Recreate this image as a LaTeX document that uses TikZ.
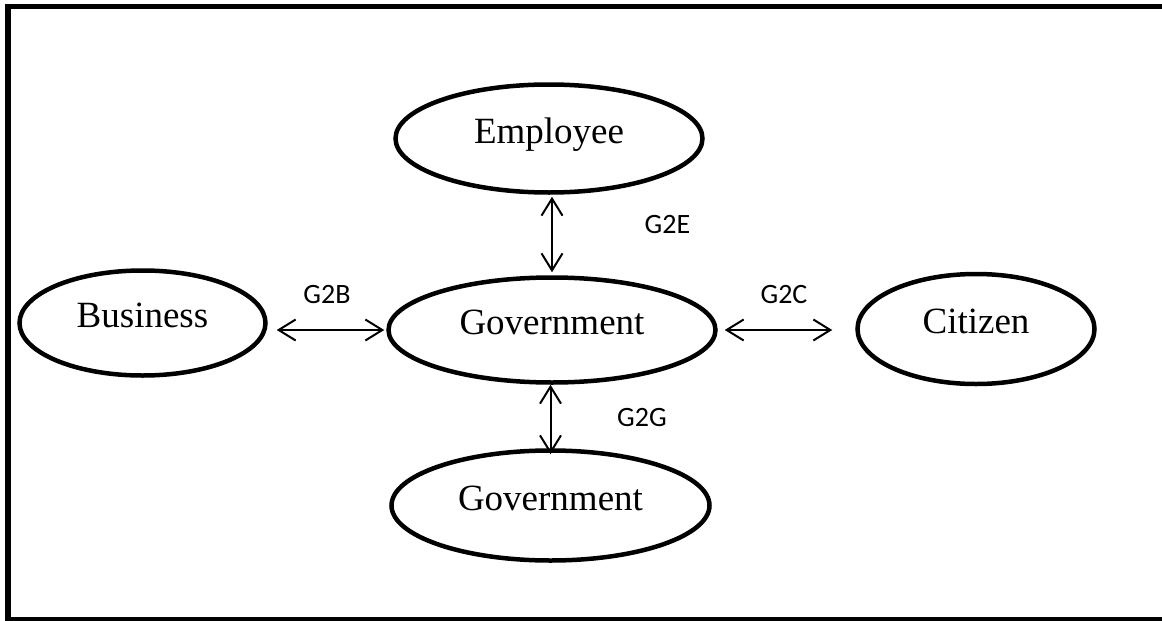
\documentclass[tikz,border=0pt]{standalone}
\usepackage{fontspec}
\setmainfont{Liberation Serif}
\newfontfamily\labelfont{Carlito}
\usetikzlibrary{shapes.geometric,arrows.meta}

\begin{document}
\begin{tikzpicture}[x=1pt, y=-1pt,
		party/.style={draw, ellipse, line width=4.5pt, inner sep=0pt,
			font=\fontsize{37}{41}\selectfont, text height=25pt, text depth=16pt},
		link/.style={line width=2pt, {Straight Barb[length=17pt, width=21pt, line width=2pt]}-{Straight Barb[length=17pt, width=21pt, line width=2pt]}},
		tag/.style={font=\labelfont\fontsize{28}{31}\selectfont, inner sep=0pt}]

		\useasboundingbox (0, 0) rectangle (1162, 621);
		\draw[line width=5.5pt] (1162, 6.5) -- (8, 6.5) -- (8, 620) -- (1162, 620);

		% the five parties
		\node[party, minimum width=307pt, minimum height=108pt] (emp) at (549, 138.5) {Employee};
		\node[party, minimum width=246pt, minimum height=105pt] (bus) at (142.5, 323) {Business};
		\node[party, minimum width=327pt, minimum height=105pt] (gov) at (552, 330) {Government};
		\node[party, minimum width=237pt, minimum height=110pt] (cit) at (976, 329) {Citizen};
		\node[party, minimum width=318pt, minimum height=110pt] (govb) at (550.5, 505.5) {Government};

		% links
		\draw[link, shorten <=2pt, shorten >=3pt] (gov.north |- emp.south) -- (gov.north);
		\draw[link, shorten <=9pt, shorten >=2pt] (gov.west -| bus.east) -- (gov.west);
		\draw[link, shorten <=7pt, shorten >=23pt] (gov.east) -- (gov.east -| cit.west);
		\draw[link, shorten >=-6pt] (gov.south -| govb.north) -- (govb.north);

		\node[tag] (g2e) at (667.5, 225) {G2E};
		\node[tag] (g2b) at (327, 295) {G2B};
		\node[tag] (g2c) at (784, 295) {G2C};
		\node[tag] (g2g) at (642, 418) {G2G};
	\end{tikzpicture}
\end{document}
